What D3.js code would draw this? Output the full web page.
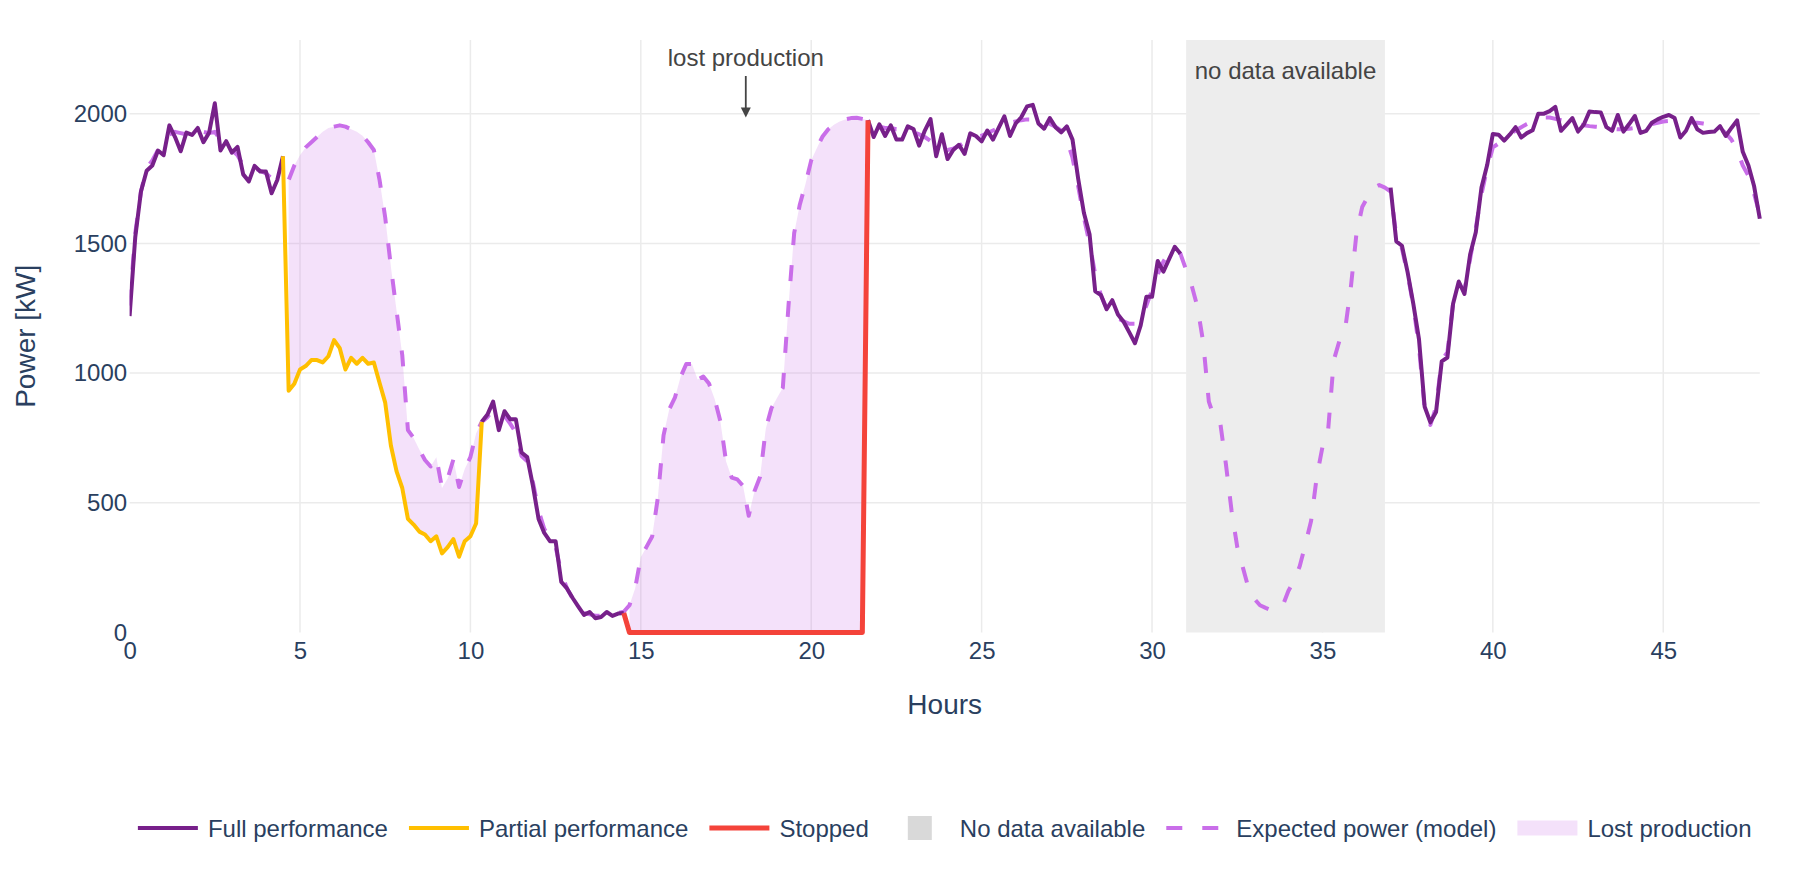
<!DOCTYPE html>
<html>
<head>
<meta charset="utf-8">
<script src="https://cdn.jsdelivr.net/npm/d3@7"></script>
<style>
  html, body { margin: 0; padding: 0; background: #fff; }
  svg { display: block; font-family: "Liberation Sans", Arial, sans-serif; }
</style>
</head>
<body>
<svg id="chart" width="1800" height="880"></svg>
<script>
// ---------------- DATA ----------------
// 10-minute samples, starting at hour 0
const sampleStepHours = 10 / 60;

// Measured power [kW]; null = no data available
const actualPower = [
  1220,1525,1700,1780,1800,1858,1840,1955,1910,1855,1927,1918,1945,1890,1927,2040,1858,1894,1850,1872,1766,1739,1799,1777,1777,1693,1744,1836,
  932,959,1014,1027,1050,1050,1041,1065,1127,1096,1014,1059,1036,1059,1036,1041,963,886,721,621,557,438,416,389,378,352,371,305,329,360,292,352,371,420,812,
  840,890,780,853,822,822,694,676,566,438,384,352,352,195,170,133,100,68,79,55,60,79,64,73,75,
  0,0,0,0,0,0,0,0,0,0,0,0,0,0,0,0,0,0,0,0,0,0,0,0,0,0,0,0,0,0,0,0,0,0,0,0,0,0,0,0,0,0,1975,
  1910,1959,1914,1955,1900,1900,1951,1941,1877,1935,1979,1836,1921,1825,1860,1880,1845,1924,1914,1893,1935,1900,1945,1990,1914,1962,1987,2028,2034,1962,1942,1983,1948,1928,1951,1900,1749,1618,1535,1315,1301,1246,1281,1226,1198,1157,1115,1184,1294,1294,1432,1391,1439,1487,1460,
  null,null,null,null,null,null,null,null,null,null,null,null,null,null,null,null,null,null,
  null,null,null,null,null,null,null,null,null,null,null,null,null,null,null,null,null,null,
  1715,1508,1491,1388,1267,1130,870,810,850,1045,1060,1267,1353,1305,1457,1543,1715,1802,1922,1919,1896,1920,1948,1908,1925,1936,2000,2000,2010,2026,1934,1958,1983,1931,1957,2008,2006,2005,1948,1934,1995,1931,1960,1991,1926,1934,1965,1978,1988,1995,1983,1908,1934,1983,1940,1926,1929,1931,1952,1914,1945,1974,1853,1800,1720,1595
];

// Expected power from the model [kW]
const expectedPower = [
  1260,1540,1700,1790,1820,1860,1880,1920,1930,1925,1920,1930,1935,1930,1925,1930,1900,1880,1860,1840,1800,1780,1790,1780,1770,1750,1745,1750,
  1744,1800,1840,1870,1890,1910,1930,1945,1950,1955,1950,1940,1930,1915,1890,1860,1745,1600,1410,1240,1070,780,750,705,665,640,676,557,594,667,561,630,676,767,812,
  830,860,845,835,805,770,680,660,580,470,400,360,330,230,170,130,100,75,70,65,65,70,72,75,80,
  105,170,290,330,370,520,760,860,905,985,1035,1035,975,987,960,900,815,660,597,590,565,450,544,600,785,865,905,943,1260,1540,1650,1730,1820,1868,1912,1940,1957,1970,1978,1983,1984,1980,1975,
  1960,1950,1945,1945,1940,1940,1935,1930,1920,1910,1895,1880,1870,1860,1865,1875,1890,1900,1910,1915,1925,1935,1945,1955,1965,1970,1975,1978,1978,1975,1970,1960,1950,1935,1900,1830,1720,1600,1500,1380,1300,1250,1225,1210,1200,1190,1190,1210,1260,1320,1380,1430,1465,1475,1460,
  1398,1336,1255,1120,890,825,810,650,470,330,250,170,130,105,95,86,86,103,160,200,255,340,430,600,715,780,1050,1125,1170,1330,1540,1640,1680,1715,1725,1715,
  1700,1530,1480,1380,1260,1100,860,800,870,1050,1080,1270,1340,1320,1440,1560,1690,1790,1870,1885,1900,1920,1935,1948,1960,1970,1980,1985,1985,1980,1975,1970,1965,1960,1955,1952,1950,1948,1945,1942,1940,1940,1942,1945,1950,1955,1960,1965,1970,1972,1972,1970,1968,1966,1965,1962,1958,1952,1942,1925,1900,1860,1800,1760,1690,1610
];

// Operating status runs (first sample index of each run, its status)
const runStartIndex = [0, 28, 63, 88, 131, 186, 222];
const runStatus     = ["full", "partial", "full", "stopped", "full", "nodata", "full"];

const noDataRange = [31.0, 36.833];
const xTicks = [0, 5, 10, 15, 20, 25, 30, 35, 40, 45];
const yTicks = [0, 500, 1000, 1500, 2000];
const xDomain = [0, 47.833];
const yDomain = [0, 2284];

const lostAnnotation = { x: 18.08, y: 1985, text: "lost production" };
const noDataText = "no data available";

const legendItems = [
  { key: "full",     label: "Full performance" },
  { key: "partial",  label: "Partial performance" },
  { key: "stopped",  label: "Stopped" },
  { key: "nodata",   label: "No data available" },
  { key: "expected", label: "Expected power (model)" },
  { key: "lost",     label: "Lost production" }
];

// ---------------- STYLE ----------------
const colors = {
  full: "#77208a",
  partial: "#ffbf00",
  stopped: "#f4433a",
  expected: "#c96ee9",
  lost: "rgba(200,105,230,0.2)",
  nodataArea: "#ededed",
  nodataLegend: "#d9d9d9",
  grid: "#ebebeb",
  text: "#2a3f5f",
  annot: "#444444"
};
const widths = { full: 4, partial: 4, stopped: 5, expected: 4 };
const dash = "16,20";

// ---------------- CHART ----------------
const svg = d3.select("#chart");
const plot = { left: 129.6, right: 1759.8, top: 40, bottom: 632.5 };

const x = d3.scaleLinear().domain(xDomain).range([plot.left, plot.right]);
const y = d3.scaleLinear().domain(yDomain).range([plot.bottom, plot.top]);

const points = actualPower.map((v, i) => ({
  i, h: i * sampleStepHours, a: v, e: expectedPower[i]
}));

svg.append("defs").append("clipPath").attr("id", "clip")
  .append("rect").attr("x", plot.left).attr("y", plot.top - 10)
  .attr("width", plot.right - plot.left + 4).attr("height", plot.bottom - plot.top + 14);

// grid
const grid = svg.append("g");
grid.selectAll("line.v").data(xTicks.filter(t => t > 0)).join("line")
  .attr("x1", d => x(d)).attr("x2", d => x(d))
  .attr("y1", plot.top).attr("y2", plot.bottom)
  .attr("stroke", colors.grid).attr("stroke-width", 1.5);
grid.selectAll("line.h").data(yTicks.filter(t => t > 0)).join("line")
  .attr("x1", plot.left).attr("x2", plot.right)
  .attr("y1", d => y(d)).attr("y2", d => y(d))
  .attr("stroke", colors.grid).attr("stroke-width", 1.5);

// no-data area
svg.append("rect")
  .attr("x", x(noDataRange[0])).attr("width", x(noDataRange[1]) - x(noDataRange[0]))
  .attr("y", plot.top).attr("height", plot.bottom - plot.top)
  .attr("fill", colors.nodataArea);

const dataG = svg.append("g").attr("clip-path", "url(#clip)");

// runs
const runs = runStartIndex.map((s, k) => ({
  status: runStatus[k],
  start: s,
  end: (k + 1 < runStartIndex.length ? runStartIndex[k + 1] : actualPower.length) - 1
}));

// lost production fill (partial + stopped runs)
const area = d3.area().x(d => x(d.h)).y0(d => y(d.a)).y1(d => y(d.e));
runs.filter(r => r.status === "partial" || r.status === "stopped").forEach(r => {
  dataG.append("path").datum(points.slice(r.start, r.end + 1))
    .attr("d", area).attr("fill", colors.lost).attr("stroke", "none");
});

// expected power
const lineE = d3.line().x(d => x(d.h)).y(d => y(d.e));
dataG.append("path").datum(points).attr("d", lineE)
  .attr("fill", "none").attr("stroke", colors.expected)
  .attr("stroke-width", widths.expected).attr("stroke-dasharray", dash)
  .attr("stroke-linejoin", "round");

// actual power by status
const lineA = d3.line().defined(d => d.a != null).x(d => x(d.h)).y(d => y(d.a));
["full", "partial", "stopped"].forEach(st => {
  runs.filter(r => r.status === st).forEach(r => {
    const from = r.start > 0 && actualPower[r.start - 1] != null ? r.start - 1 : r.start;
    dataG.append("path").datum(points.slice(from, r.end + 1))
      .attr("d", lineA).attr("fill", "none")
      .attr("stroke", colors[st]).attr("stroke-width", widths[st])
      .attr("stroke-linejoin", "round");
  });
});

// axes
const xAxis = svg.append("g").attr("transform", `translate(0,${plot.bottom})`)
  .call(d3.axisBottom(x).tickValues(xTicks).tickSize(0).tickPadding(9).tickFormat(d3.format("d")));
const yAxis = svg.append("g").attr("transform", `translate(${plot.left},0)`)
  .call(d3.axisLeft(y).tickValues(yTicks).tickSize(0).tickPadding(2.5).tickFormat(d3.format("d")));
[xAxis, yAxis].forEach(g => {
  g.select(".domain").remove();
  g.selectAll("text").attr("fill", colors.text).style("font-size", "24px")
    .style("font-family", '"Liberation Sans", Arial, sans-serif');
});

// axis titles
svg.append("text").attr("x", (plot.left + plot.right) / 2).attr("y", 714)
  .attr("text-anchor", "middle").attr("fill", colors.text).style("font-size", "28px")
  .text("Hours");
svg.append("text").attr("transform", `translate(35,${(plot.top + plot.bottom) / 2}) rotate(-90)`)
  .attr("text-anchor", "middle").attr("fill", colors.text).style("font-size", "28px")
  .text("Power [kW]");

// annotations
const ax = x(lostAnnotation.x), tipY = y(lostAnnotation.y);
svg.append("text").attr("x", ax).attr("y", 65.5).attr("text-anchor", "middle")
  .attr("fill", colors.annot).style("font-size", "24px").text(lostAnnotation.text);
svg.append("line").attr("x1", ax).attr("x2", ax).attr("y1", 76).attr("y2", tipY - 8)
  .attr("stroke", colors.annot).attr("stroke-width", 1.8);
svg.append("path").attr("d", `M${ax - 5},${tipY - 10}L${ax + 5},${tipY - 10}L${ax},${tipY}Z`)
  .attr("fill", colors.annot);

svg.append("text").attr("x", (x(noDataRange[0]) + x(noDataRange[1])) / 2).attr("y", 78.5)
  .attr("text-anchor", "middle").attr("fill", colors.annot).style("font-size", "24px")
  .text(noDataText);

// legend
const legend = svg.append("g");
const legY = 828;
let cursor = 0;
const items = legendItems.map(it => {
  const g = legend.append("g");
  const t = g.append("text").attr("x", 70).attr("y", legY + 8.5)
    .attr("fill", colors.text).style("font-size", "24px").text(it.label);
  const w = t.node().getComputedTextLength();
  if (it.key === "full" || it.key === "partial" || it.key === "stopped") {
    g.append("line").attr("x1", 0).attr("x2", 60).attr("y1", legY).attr("y2", legY)
      .attr("stroke", colors[it.key]).attr("stroke-width", widths[it.key]);
  } else if (it.key === "expected") {
    g.append("line").attr("x1", 0).attr("x2", 60).attr("y1", legY).attr("y2", legY)
      .attr("stroke", colors.expected).attr("stroke-width", widths.expected)
      .attr("stroke-dasharray", dash);
  } else if (it.key === "nodata") {
    g.append("rect").attr("x", 18).attr("y", legY - 12).attr("width", 24).attr("height", 24)
      .attr("fill", colors.nodataLegend);
  } else if (it.key === "lost") {
    g.append("rect").attr("x", 0).attr("y", legY - 7.5).attr("width", 60).attr("height", 15)
      .attr("fill", colors.lost);
  }
  const pos = cursor;
  cursor += 70 + w + 21;
  return { g, pos };
});
const totalW = cursor - 21;
const legStart = (plot.left + plot.right) / 2 - totalW / 2;
items.forEach(it => it.g.attr("transform", `translate(${legStart + it.pos},0)`));
</script>
</body>
</html>
